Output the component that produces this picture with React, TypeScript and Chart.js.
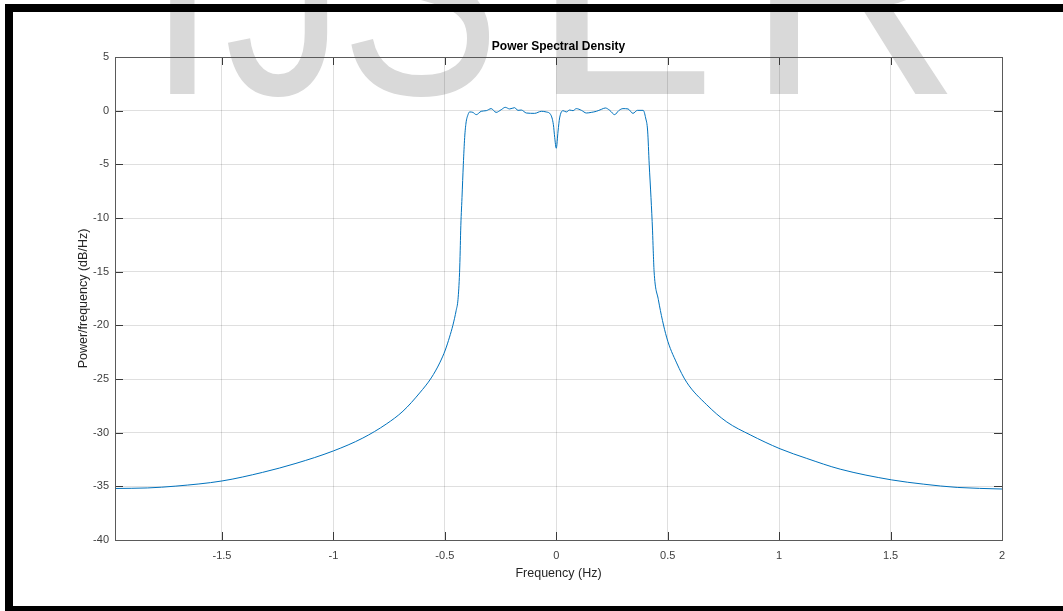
import React, { useEffect, useRef } from 'react';
import { Chart, registerables } from 'chart.js';

Chart.register(...registerables);

// ---- data ----
const frequencyHz = [
  -1.98, -1.835, -1.707, -1.5, -1.318, -1.168, -1.0, -0.868, -0.763, -0.688,
  -0.613, -0.561, -0.523, -0.498, -0.479, -0.464, -0.449, -0.441, -0.434, -0.431,
  -0.429, -0.423, -0.417, -0.411, -0.405, -0.396, -0.389, -0.374, -0.359, -0.337,
  -0.314, -0.292, -0.27, -0.247, -0.229, -0.209, -0.187, -0.172, -0.157, -0.134,
  -0.097, -0.067, -0.045, -0.025, -0.013, -0.007, 0.0, 0.008, 0.015, 0.03,
  0.045, 0.06, 0.075, 0.09, 0.113, 0.135, 0.157, 0.18, 0.202, 0.22,
  0.24, 0.262, 0.28, 0.299, 0.322, 0.344, 0.364, 0.39, 0.401, 0.41,
  0.417, 0.425, 0.432, 0.435, 0.439, 0.458, 0.495, 0.54, 0.585, 0.675,
  0.765, 0.87, 1.004, 1.124, 1.274, 1.505, 1.649, 1.799, 2.0,
];
const psdDbPerHz = [
  -35.2, -35.15, -34.98, -34.5, -33.7, -32.86, -31.7, -30.5, -29.2, -28.0,
  -26.3, -24.9, -23.5, -22.3, -21.1, -20.0, -18.6, -17.6, -15.1, -13.0,
  -11.2, -8.1, -5.0, -2.5, -1.15, -0.37, -0.12, -0.16, -0.37, -0.06,
  0.0, 0.19, -0.16, 0.09, 0.31, 0.16, 0.28, 0.03, 0.06, -0.22,
  -0.25, -0.06, -0.12, -0.37, -1.3, -2.5, -3.5, -1.9, -0.68, 0.0,
  -0.12, 0.06, 0.0, 0.19, 0.03, -0.22, -0.16, -0.06, 0.12, 0.25,
  0.03, -0.37, 0.0, 0.19, 0.16, -0.25, 0.03, 0.03, -0.68, -1.9,
  -5.0, -8.1, -11.2, -13.0, -15.0, -17.6, -21.1, -23.5, -25.3, -27.4,
  -29.0, -30.2, -31.5, -32.4, -33.4, -34.4, -34.8, -35.1, -35.25,
];
const xTickValues = [-1.5, -1, -0.5, 0, 0.5, 1, 1.5, 2];
const yTickValues = [5, 0, -5, -10, -15, -20, -25, -30, -35, -40];
const xLimits = [-1.98, 2];
const yLimits = [-40, 5];
const chartTitle = 'Power Spectral Density';
const xAxisTitle = 'Frequency (Hz)';
const yAxisTitle = 'Power/frequency (dB/Hz)';
const watermarkLetters = ['I', 'J', 'S', 'L', 'R'];

// ---- layout (not data) ----
const W = 1063;
const H = 611;
const WATERMARK_INK_LEFT = [166.5, 228, 348, 555, 769];
const WATERMARK_INK_WIDTH = [28.5, 102, 142, 152, 182];
const WATERMARK_BASELINE = 94;
const FONT = '"Liberation Sans", Arial, Helvetica, sans-serif';

const matlabPlugin = {
  id: 'matlabFrame',
  beforeDraw(chart: any) {
    const ctx = chart.ctx;
    ctx.save();
    ctx.fillStyle = '#ffffff';
    ctx.fillRect(0, 0, chart.width, chart.height);
    ctx.fillStyle = '#d9d9d9';
    ctx.font = `300px ${FONT}`;
    ctx.textBaseline = 'alphabetic';
    ctx.textAlign = 'left';
    watermarkLetters.forEach((ch, i) => {
      const m = ctx.measureText(ch);
      const natural = m.actualBoundingBoxLeft + m.actualBoundingBoxRight;
      const sx = WATERMARK_INK_WIDTH[i] / natural;
      ctx.save();
      ctx.translate(WATERMARK_INK_LEFT[i], WATERMARK_BASELINE);
      ctx.scale(sx, 1);
      ctx.fillText(ch, m.actualBoundingBoxLeft, 0);
      ctx.restore();
    });
    ctx.restore();
  },
  afterDraw(chart: any) {
    const { ctx, chartArea: a, scales } = chart;
    ctx.save();
    ctx.lineWidth = 1;
    ctx.strokeStyle = '#3a3a3a';
    ctx.beginPath();
    const tl = 8;
    xTickValues.forEach((v) => {
      const px = Math.round(scales.x.getPixelForValue(v)) + 0.5;
      ctx.moveTo(px, a.bottom);
      ctx.lineTo(px, a.bottom - tl);
      ctx.moveTo(px, a.top);
      ctx.lineTo(px, a.top + tl);
    });
    yTickValues.forEach((v) => {
      const py = Math.round(scales.y.getPixelForValue(v)) + 0.5;
      ctx.moveTo(a.left, py);
      ctx.lineTo(a.left + tl, py);
      ctx.moveTo(a.right, py);
      ctx.lineTo(a.right - tl, py);
    });
    ctx.stroke();
    ctx.strokeStyle = '#5a5a5a';
    ctx.strokeRect(Math.round(a.left) + 0.5, Math.round(a.top) + 0.5,
      Math.round(a.right - a.left), Math.round(a.bottom - a.top));
    ctx.restore();
  },
};

export default function App() {
  const canvasRef = useRef<HTMLCanvasElement | null>(null);

  useEffect(() => {
    if (!canvasRef.current) return;
    const points = frequencyHz.map((f, i) => ({ x: f, y: psdDbPerHz[i] }));
    const chart = new Chart(canvasRef.current, {
      type: 'scatter',
      data: {
        datasets: [
          {
            data: points,
            showLine: true,
            borderColor: '#0072BD',
            borderWidth: 1,
            pointRadius: 0,
            cubicInterpolationMode: 'monotone',
            fill: false,
          },
        ],
      },
      options: {
        responsive: false,
        animation: false,
        devicePixelRatio: 1,
        layout: { padding: { left: 0, top: 0, right: 61, bottom: 0 } },
        plugins: {
          legend: { display: false },
          tooltip: { enabled: false },
          title: {
            display: true,
            text: chartTitle,
            fullSize: false,
            color: '#000000',
            font: { family: FONT, size: 12, weight: 'bold' },
            padding: { top: 39.5, bottom: 3.1 },
          },
        },
        scales: {
          x: {
            type: 'linear',
            min: xLimits[0],
            max: xLimits[1],
            afterBuildTicks: (s: any) => {
              s.ticks = xTickValues.map((value) => ({ value }));
            },
            afterFit: (s: any) => {
              s.height = 71;
            },
            grid: { color: 'rgba(38,38,38,0.15)', drawTicks: false, lineWidth: 1 },
            border: { display: false },
            ticks: {
              autoSkip: false,
              maxRotation: 0,
              padding: 9.5,
              color: '#404040',
              font: { family: FONT, size: 11 },
              callback: (v: any) => String(v),
            },
            title: {
              display: true,
              text: xAxisTitle,
              color: '#262626',
              font: { family: FONT, size: 12.5 },
              padding: { top: 0, bottom: 29.5 },
            },
          },
          y: {
            type: 'linear',
            min: yLimits[0],
            max: yLimits[1],
            afterBuildTicks: (s: any) => {
              s.ticks = yTickValues.map((value) => ({ value }));
            },
            afterFit: (s: any) => {
              s.width = 115;
            },
            grid: { color: 'rgba(38,38,38,0.15)', drawTicks: false, lineWidth: 1 },
            border: { display: false },
            ticks: {
              autoSkip: false,
              padding: 6,
              color: '#404040',
              font: { family: FONT, size: 11 },
              callback: (v: any) => String(v),
            },
            title: {
              display: true,
              text: yAxisTitle,
              color: '#262626',
              font: { family: FONT, size: 12.5 },
              padding: { top: 76, bottom: 0 },
            },
          },
        },
      },
      plugins: [matlabPlugin],
    } as any);
    return () => chart.destroy();
  }, []);

  return (
    <div style={{ position: 'fixed', left: 0, top: 0, width: W, height: H, background: '#fff', overflow: 'hidden' }}>
      <canvas ref={canvasRef} width={W} height={H} style={{ position: 'absolute', left: 0, top: 0, width: W, height: H }} />
      <div style={{ position: 'absolute', left: 5, top: 4, width: W - 5, height: 8, background: '#000' }} />
      <div style={{ position: 'absolute', left: 5, top: 4, width: 8, height: H - 4, background: '#000' }} />
      <div style={{ position: 'absolute', left: 5, top: 606, width: W - 5, height: 5, background: '#000' }} />
    </div>
  );
}
